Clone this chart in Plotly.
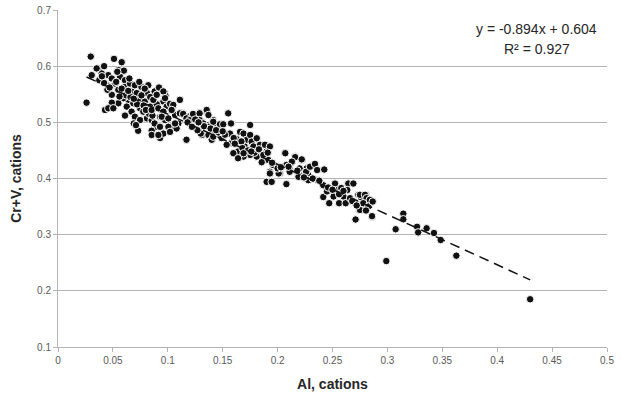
import plotly.graph_objects as go

# Al vs Cr+V (cations)
al_cations = [
    0.0298, 0.026, 0.051, 0.058, 0.055, 0.060, 0.0373, 0.042, 0.0398, 0.0376,
    0.0458, 0.049, 0.0443, 0.0519, 0.0565, 0.061, 0.055, 0.049, 0.061, 0.0656,
    0.067, 0.070, 0.076, 0.0717, 0.064, 0.0595, 0.055, 0.049, 0.0428, 0.0458,
    0.0504, 0.0626, 0.0686, 0.0747, 0.081, 0.079, 0.084, 0.0868, 0.088, 0.0822,
    0.0747, 0.067, 0.070, 0.0777, 0.081, 0.0747, 0.069, 0.073, 0.0853, 0.088,
    0.0853, 0.0914, 0.093, 0.093, 0.0975, 0.0975, 0.096, 0.099, 0.0899, 0.1035,
    0.1066, 0.111, 0.1096, 0.105, 0.117, 0.114, 0.1187, 0.123, 0.129, 0.1354,
    0.131, 0.1354, 0.1414, 0.1445, 0.1414, 0.131, 0.137, 0.140, 0.0352, 0.0307,
    0.0853, 0.0420, 0.0450, 0.0620, 0.0580, 0.0530, 0.0470, 0.0400, 0.0660, 0.0720,
    0.0780, 0.0830, 0.0900, 0.0950, 0.0560, 0.0640, 0.0690, 0.0760, 0.0800, 0.0860,
    0.0650, 0.0740, 0.0790, 0.0840, 0.0920, 0.0980, 0.1020, 0.0710, 0.0610, 0.0540,
    # x 0.085 - 0.17
    0.0868, 0.0899, 0.0853, 0.0914, 0.096, 0.0945, 0.1005, 0.088, 0.0929, 0.1005,
    0.096, 0.0914, 0.108, 0.102, 0.1066, 0.096, 0.111, 0.0975, 0.105, 0.1035,
    0.111, 0.114, 0.117, 0.120, 0.123, 0.129, 0.1354, 0.137, 0.129, 0.1323,
    0.130, 0.137, 0.1414, 0.143, 0.1414, 0.1475, 0.1505, 0.155, 0.1576, 0.149,
    0.1566, 0.158, 0.1536, 0.1627, 0.164, 0.1597, 0.1658, 0.169, 0.172, 0.170,
    0.175, 0.175, 0.1764, 0.178, 0.181, 0.184, 0.1885, 0.190, 0.193, 0.1855,
    0.1915, 0.181, 0.175, 0.169, 0.164, 0.2067, 0.117, 0.190, 0.1946, 0.208,
    0.193, 0.2006, 0.202, 0.208, 0.213, 0.216, 0.222, 0.2113, 0.219, 0.2265,
    0.228, 0.1180, 0.1250, 0.1330, 0.1270, 0.1390, 0.1460, 0.1520, 0.1600, 0.1670,
    0.1220, 0.1280, 0.1440, 0.1500, 0.1610, 0.1680, 0.1730, 0.1790, 0.1830, 0.1870,
    # x 0.17 - 0.29
    0.169, 0.176, 0.1855, 0.191, 0.196, 0.193, 0.201, 0.200, 0.207, 0.208,
    0.211, 0.216, 0.213, 0.222, 0.220, 0.219, 0.226, 0.228, 0.2295, 0.234,
    0.236, 0.2425, 0.2365, 0.2416, 0.2416, 0.245, 0.247, 0.251, 0.2523, 0.2547,
    0.256, 0.258, 0.260, 0.262, 0.2644, 0.2635, 0.266, 0.269, 0.2735, 0.271,
    0.271, 0.2744, 0.2757, 0.2805, 0.2826, 0.2805, 0.2857, 0.2863, 0.275, 0.2796,
    0.281, 0.284, 0.278, 0.2826, 0.275, 0.2805, 0.2866, 0.1950, 0.2030, 0.2100,
    0.2180, 0.2240, 0.2320, 0.2380, 0.2460, 0.2500, 0.2560, 0.2600, 0.2680, 0.2720,
    # sparse tail
    0.286, 0.3075, 0.3145, 0.3145, 0.299, 0.327, 0.328, 0.3357, 0.3424, 0.3485,
    0.3628, 0.430,
]
crv_cations = [
    0.617, 0.535, 0.613, 0.607, 0.593, 0.592, 0.596, 0.600, 0.587, 0.575,
    0.584, 0.578, 0.566, 0.569, 0.581, 0.575, 0.558, 0.549, 0.563, 0.569,
    0.555, 0.566, 0.563, 0.552, 0.540, 0.543, 0.534, 0.535, 0.522, 0.525,
    0.525, 0.528, 0.534, 0.540, 0.552, 0.537, 0.528, 0.540, 0.555, 0.566,
    0.525, 0.519, 0.510, 0.519, 0.507, 0.504, 0.498, 0.485, 0.504, 0.491,
    0.485, 0.4775, 0.472, 0.510, 0.504, 0.552, 0.537, 0.528, 0.525, 0.522,
    0.513, 0.540, 0.498, 0.492, 0.469, 0.516, 0.510, 0.513, 0.516, 0.522,
    0.501, 0.4953, 0.504, 0.4953, 0.4864, 0.4775, 0.4775, 0.469, 0.596, 0.584,
    0.4775, 0.570, 0.558, 0.548, 0.560, 0.572, 0.562, 0.582, 0.545, 0.532,
    0.530, 0.515, 0.532, 0.520, 0.546, 0.556, 0.542, 0.548, 0.522, 0.512,
    0.578, 0.572, 0.560, 0.545, 0.562, 0.547, 0.533, 0.495, 0.512, 0.590,
    # x 0.085 - 0.17
    0.540, 0.549, 0.522, 0.525, 0.519, 0.510, 0.507, 0.498, 0.492, 0.492,
    0.480, 0.4775, 0.489, 0.483, 0.498, 0.555, 0.540, 0.543, 0.531, 0.522,
    0.516, 0.515, 0.507, 0.504, 0.515, 0.516, 0.522, 0.513, 0.504, 0.498,
    0.480, 0.492, 0.501, 0.483, 0.4745, 0.4965, 0.4965, 0.516, 0.498, 0.472,
    0.480, 0.463, 0.460, 0.470, 0.448, 0.445, 0.483, 0.480, 0.469, 0.457,
    0.4953, 0.4775, 0.4656, 0.457, 0.4716, 0.460, 0.460, 0.448, 0.457, 0.430,
    0.433, 0.439, 0.442, 0.439, 0.436, 0.446, 0.469, 0.394, 0.394, 0.390,
    0.412, 0.415, 0.409, 0.424, 0.430, 0.439, 0.433, 0.415, 0.409, 0.418,
    0.406, 0.500, 0.505, 0.493, 0.486, 0.489, 0.482, 0.478, 0.472, 0.466,
    0.492, 0.500, 0.486, 0.484, 0.462, 0.454, 0.450, 0.446, 0.452, 0.442,
    # x 0.17 - 0.29
    0.445, 0.448, 0.429, 0.446, 0.424, 0.409, 0.409, 0.418, 0.445, 0.424,
    0.412, 0.438, 0.430, 0.434, 0.418, 0.403, 0.412, 0.397, 0.421, 0.426,
    0.415, 0.416, 0.397, 0.388, 0.367, 0.377, 0.356, 0.368, 0.391, 0.3795,
    0.356, 0.383, 0.368, 0.356, 0.391, 0.3795, 0.365, 0.391, 0.371, 0.357,
    0.327, 0.344, 0.367, 0.371, 0.363, 0.344, 0.359, 0.332, 0.371, 0.371,
    0.365, 0.362, 0.356, 0.350, 0.344, 0.343, 0.359, 0.428, 0.420, 0.421,
    0.414, 0.402, 0.400, 0.396, 0.384, 0.380, 0.372, 0.378, 0.360, 0.352,
    # sparse tail
    0.333, 0.3096, 0.3374, 0.3274, 0.253, 0.314, 0.304, 0.3113, 0.303, 0.2905,
    0.2626, 0.185,
]

# trendline coefficients as printed on the chart
slope = -0.894
intercept = 0.604
equation_text = "y = -0.894x + 0.604"
r2_text = "R² = 0.927"

x_ticks = [0, 0.05, 0.1, 0.15, 0.2, 0.25, 0.3, 0.35, 0.4, 0.45, 0.5]
y_ticks = [0.1, 0.2, 0.3, 0.4, 0.5, 0.6, 0.7]

FONT = "Liberation Sans"
TICK_COLOR = "#595959"
GRID = "#b3b3b3"

fig = go.Figure()
fig.add_trace(go.Scatter(
    x=al_cations, y=crv_cations, mode="markers",
    marker=dict(size=7.5, color="#111111", line=dict(color="white", width=1)),
    showlegend=False, hoverinfo="x+y",
))

x0, x1 = min(al_cations), max(al_cations)
fig.add_trace(go.Scatter(
    x=[x0, x1], y=[slope * x0 + intercept, slope * x1 + intercept],
    mode="lines", line=dict(color="#111111", width=1.5, dash="10px,6px"),
    showlegend=False, hoverinfo="skip",
))

fig.update_layout(
    width=622, height=397,
    margin=dict(l=58, r=15, t=10, b=50, autoexpand=False),
    paper_bgcolor="white", plot_bgcolor="white",
    font=dict(family=FONT, color=TICK_COLOR, size=10),
    xaxis=dict(
        range=[0, 0.5], tickvals=x_ticks, ticktext=[str(v) for v in x_ticks],
        showgrid=False, zeroline=False, automargin=False,
        showline=True, linecolor=GRID, linewidth=1,
        ticks="outside", ticklen=4, tickcolor=GRID,
        tickfont=dict(size=10, color=TICK_COLOR, family=FONT),
        title=dict(text="<b>Al, cations</b>", standoff=14,
                   font=dict(size=14, color="#262626", family=FONT)),
    ),
    yaxis=dict(
        range=[0.1, 0.7], tickvals=y_ticks, ticktext=[str(v) for v in y_ticks],
        showgrid=True, gridcolor=GRID, gridwidth=1, zeroline=False,
        automargin=False,
        showline=True, linecolor=GRID, linewidth=1,
        ticks="outside", ticklen=4, tickcolor=GRID,
        tickfont=dict(size=10, color=TICK_COLOR, family=FONT),
        title=dict(text="<b>Cr+V, cations</b>", standoff=12,
                   font=dict(size=14, color="#262626", family=FONT)),
    ),
    annotations=[
        dict(x=0.436, y=0.666, xref="x", yref="y", text=equation_text,
             showarrow=False, xanchor="center", yanchor="middle",
             font=dict(size=14, color="#262626", family=FONT)),
        dict(x=0.436, y=0.631, xref="x", yref="y", text=r2_text,
             showarrow=False, xanchor="center", yanchor="middle",
             font=dict(size=14, color="#262626", family=FONT)),
    ],
)

fig.write_html(
    "out.html",
    config={"displayModeBar": False},
    post_script="document.body.style.margin='0';document.body.style.overflow='hidden';",
)
